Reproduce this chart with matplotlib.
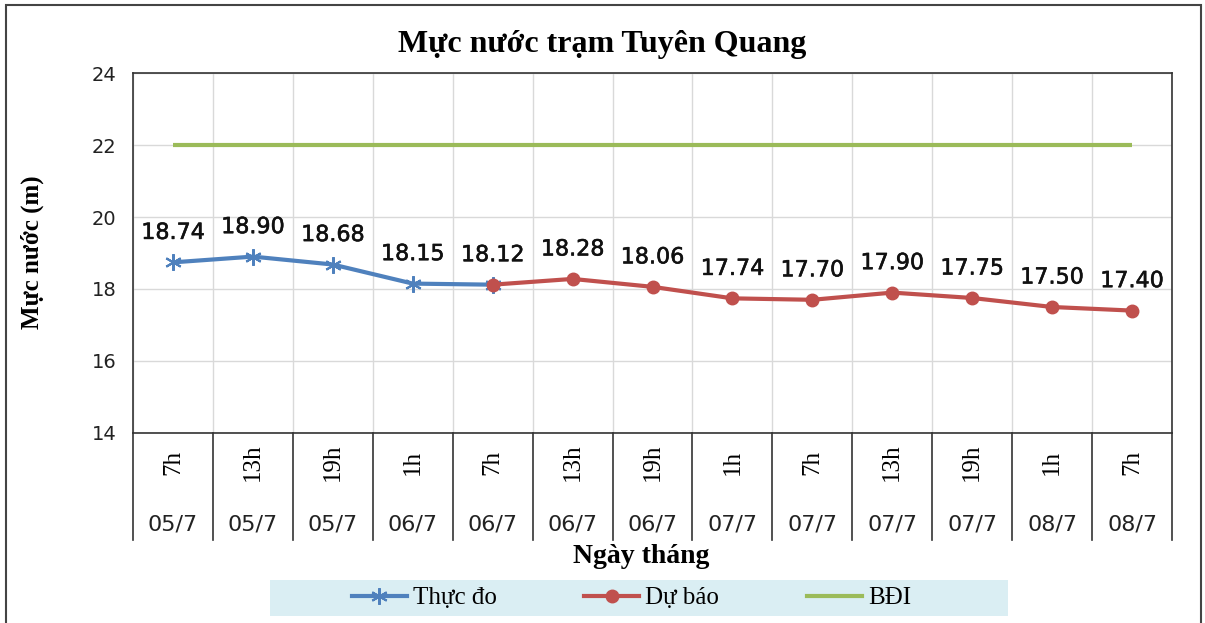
import numpy as np
import matplotlib.pyplot as plt
import matplotlib.patheffects as pe
from matplotlib.patches import Rectangle
from matplotlib.lines import Line2D

# du lieu doc tu hinh
gio = ['7h', '13h', '19h', '1h', '7h', '13h', '19h', '1h', '7h', '13h', '19h', '1h', '7h']
ngay = ['05/7', '05/7', '05/7', '06/7', '06/7', '06/7', '06/7', '07/7', '07/7', '07/7', '07/7', '08/7', '08/7']
thuc_do = [18.74, 18.90, 18.68, 18.15, 18.12]
du_bao = [18.12, 18.28, 18.06, 17.74, 17.70, 17.90, 17.75, 17.50, 17.40]
bdi = [22.0] * 13

c_blue = '#4F81BD'
c_red = '#C0504D'
c_green = '#9BBB59'

fig = plt.figure(figsize=(12.05, 6.23), dpi=100)
ax = fig.add_axes([0.1104, 0.305, 0.8622, 0.5778])

x = np.arange(len(gio))
x_td = x[:len(thuc_do)]
x_db = x[len(thuc_do) - 1:]

ax.plot(x, bdi, color=c_green, lw=3, solid_capstyle='butt', zorder=3)
ax.plot(x_td, thuc_do, color=c_blue, lw=3, marker=(6, 2, 0), ms=12, mew=1.5, zorder=4)
ax.plot(x_db, du_bao, color=c_red, lw=3, marker='o', ms=9, zorder=5)

# nhan gia tri
gia_tri = thuc_do[:-1] + du_bao
for xi, v in zip(x, gia_tri):
    ax.annotate(f'{v:.2f}', (xi, v), xytext=(0, 14), textcoords='offset points',
                ha='center', va='bottom', fontsize=16, family='DejaVu Sans', color='#111111',
                path_effects=[pe.withStroke(linewidth=0.4, foreground='#111111')])

ax.set_xlim(-0.5, len(gio) - 0.5)
ax.set_ylim(14, 24)
ax.set_yticks([14, 16, 18, 20, 22, 24])
ax.set_xticks(np.arange(-0.5, len(gio), 1.0))
ax.set_xticklabels([])
ax.tick_params(axis='x', length=0)
ax.tick_params(axis='y', length=0, labelsize=14, pad=12, labelcolor='#222222')
ax.grid(True, color='#D9D9D9', lw=1)
ax.set_axisbelow(True)
for s in ax.spines.values():
    s.set_color('#333333')
    s.set_linewidth(1.2)

# bang truc x
trans = ax.get_xaxis_transform()
for b in np.arange(-0.5, len(gio), 1.0):
    ax.plot([b, b], [0, -0.297], color='#333333', lw=1.2, transform=trans, clip_on=False)
for xi, g, d in zip(x, gio, ngay):
    ax.text(xi, -0.082, g, rotation=90, ha='center', va='center', transform=trans,
            fontsize=18, family='Liberation Serif')
    ax.text(xi, -0.255, d, ha='center', va='center', transform=trans, fontsize=16,
            family='DejaVu Sans', color='#222222')

fig.text(0.5, 0.928, 'Mực nước trạm Tuyên Quang', ha='center', va='center',
         fontsize=23, fontweight='bold', family='Liberation Serif')
fig.text(0.027, 0.595, 'Mực nước (m)', rotation=90, ha='center', va='center',
         fontsize=18, fontweight='bold', family='Liberation Serif')
fig.text(0.532, 0.106, 'Ngày tháng', ha='center', va='center',
         fontsize=20, fontweight='bold', family='Liberation Serif')

# chu giai
fig.patches.append(Rectangle((270 / 1205, 0.011), 738 / 1205, 0.058, transform=fig.transFigure,
                             facecolor='#DAEEF3', edgecolor='none', zorder=0))
handles = [
    Line2D([], [], color=c_blue, lw=3, marker=(6, 2, 0), ms=12, mew=1.5),
    Line2D([], [], color=c_red, lw=3, marker='o', ms=9),
    Line2D([], [], color=c_green, lw=3),
]
fig.legend(handles, ['Thực đo', 'Dự báo', 'BĐI'], loc='center', ncol=3,
           bbox_to_anchor=(0.524, 0.04), frameon=False, columnspacing=3.5,
           handlelength=2.2, handletextpad=0.25,
           prop={'family': 'Liberation Serif', 'size': 18})

# khung ngoai
fig.patches.append(Rectangle((0.005, -0.02), 0.992, 1.012, transform=fig.transFigure,
                             facecolor='none', edgecolor='#444444', lw=1.5))

fig.savefig('out.png', dpi=100)
